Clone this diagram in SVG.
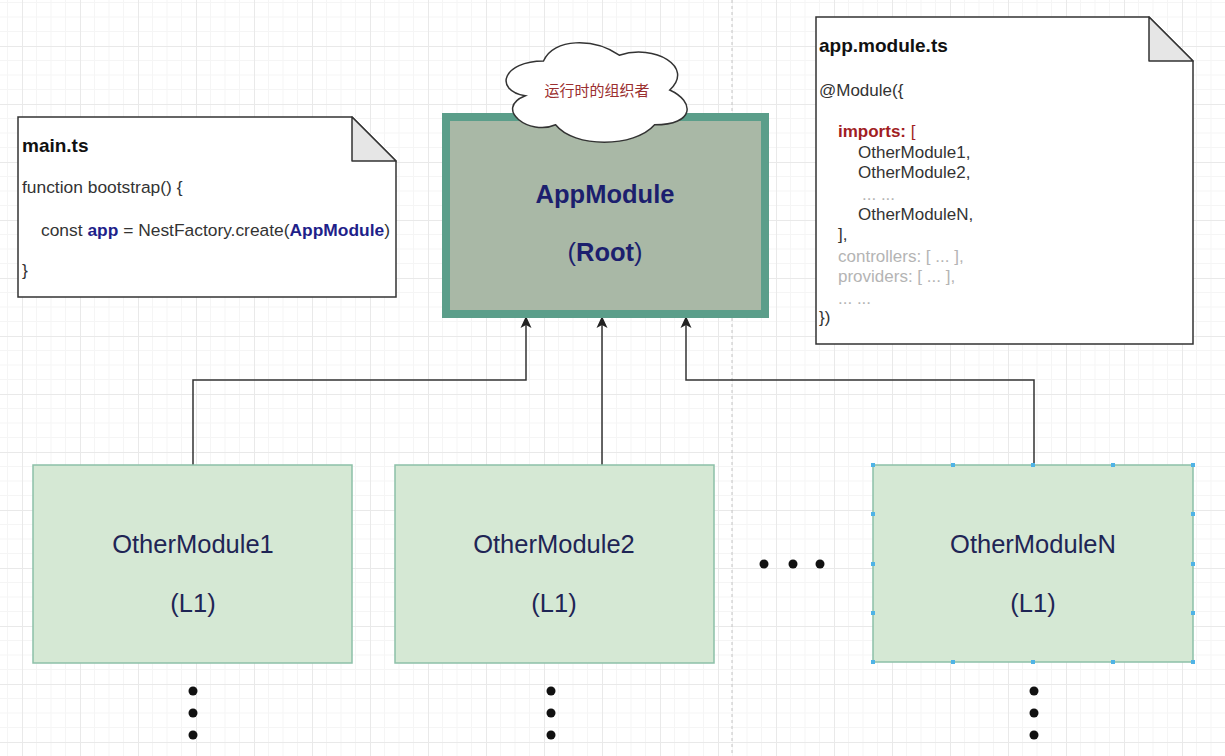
<svg xmlns="http://www.w3.org/2000/svg" width="1225" height="756" viewBox="0 0 1225 756">
<style>
.code{font-family:"Liberation Sans",Arial,sans-serif;font-size:17px;fill:#333}
.mcode{font-size:17.4px}
.title{font-family:"Liberation Sans",Arial,sans-serif;font-size:19px;font-weight:bold;fill:#111}
.kw{font-weight:bold;fill:#1f1f8a}
.imp{fill:#a11d23}
.dim{fill:#b4b4b4}
.note{fill:#fff;stroke:#333;stroke-width:1.5}
.fold{fill:#e6e6e6;stroke:#333;stroke-width:1.5;stroke-linejoin:round}
.mod{fill:#d5e8d4;stroke:#8cc0a8;stroke-width:1.5}
.modtxt{font-family:"Liberation Sans",Arial,sans-serif;font-size:25.5px;fill:#1f2555;text-anchor:middle}
.root{font-family:"Liberation Sans",Arial,sans-serif;font-size:25.5px;fill:#1c1f6e;text-anchor:middle}
.conn{fill:none;stroke:#333;stroke-width:1.5}
.dot{fill:#111}
.hdl{fill:#4fb3e6}
</style>
<defs>
<pattern id="grid" x="22" y="46" width="58" height="58" patternUnits="userSpaceOnUse">
<path d="M14.5 0V58M29 0V58M43.5 0V58M0 14.5H58M0 29H58M0 43.5H58" stroke="#f5f5f5" stroke-width="1" fill="none"/>
<path d="M0.5 0V58M0 0.5H58" stroke="#e9e9e9" stroke-width="1" fill="none"/>
</pattern>
<marker id="arr" viewBox="0 0 12 12" refX="11" refY="6" markerWidth="12" markerHeight="12" orient="auto" markerUnits="userSpaceOnUse">
<path d="M0,0.5 L12,6 L0,11.5 L3,6 Z" fill="#222"/>
</marker>
</defs>
<rect width="1225" height="756" fill="#fff"/>
<rect width="1225" height="756" fill="url(#grid)"/>
<line x1="732" y1="0" x2="732" y2="756" stroke="#c4c4c4" stroke-width="1" stroke-dasharray="3 3"/>

<g id="connectors">
<path class="conn" d="M193,465 V380 H526 V317" marker-end="url(#arr)"/>
<path class="conn" d="M602,465 V317" marker-end="url(#arr)"/>
<path class="conn" d="M1034,465 V380 H686 V317" marker-end="url(#arr)"/>
</g>

<g id="main-ts">
<path class="note" d="M18,117 H352 L396,161 V297 H18 Z"/>
<path class="fold" d="M352,117 V161 H396 Z"/>
<text class="title" x="22" y="152">main.ts</text>
<text class="code mcode" x="22" y="193">function bootstrap() {</text>
<text class="code mcode" x="41" y="236">const <tspan class="kw">app</tspan> = NestFactory.create(<tspan class="kw">AppModule</tspan>)</text>
<text class="code mcode" x="22" y="276">}</text>
</g>

<g id="app-module-ts">
<path class="note" d="M816,17 H1149 L1193,61 V344 H816 Z"/>
<path class="fold" d="M1149,17 V61 H1193 Z"/>
<text class="title" x="819" y="52">app.module.ts</text>
<text class="code" x="819" y="96">@Module({</text>
<text class="code" x="838" y="137"><tspan class="imp" font-weight="bold">imports:</tspan><tspan class="imp"> [</tspan></text>
<text class="code" x="858" y="158">OtherModule1,</text>
<text class="code" x="858" y="178">OtherModule2,</text>
<text class="code dim" x="862" y="200" font-size="14">... ...</text>
<text class="code" x="858" y="220">OtherModuleN,</text>
<text class="code" x="838" y="240">],</text>
<text class="code dim" x="838" y="262">controllers: [ ... ],</text>
<text class="code dim" x="838" y="282">providers: [ ... ],</text>
<text class="code dim" x="838" y="304" font-size="14">... ...</text>
<text class="code" x="819" y="323">})</text>
</g>

<g id="app-module">
<rect x="446" y="117" width="319" height="197" fill="#a9b8a6" stroke="#5b9e8a" stroke-width="8"/>
<text class="root" x="605" y="203" font-weight="bold">AppModule</text>
<text class="root" x="605" y="261">(<tspan font-weight="bold">Root</tspan>)</text>
</g>

<g id="cloud">
<path d="M543.5,61 C503.1,61 493,90 525.3,95.8 C493,108.6 529.4,136.4 555.6,124.8 C573.8,148 634.4,148 654.6,124.8 C695,124.8 695,101.6 669.75,90 C695,66.8 654.6,43.6 619.25,55.2 C594,37.8 553.6,37.8 543.5,61 Z" fill="#fff" stroke="#333" stroke-width="1.5"/>
<text x="597" y="96" font-family="'Noto Sans CJK SC',sans-serif" font-size="15" fill="#9b2f2f" text-anchor="middle">运行时的组织者</text>
</g>

<g id="other-module-1">
<rect class="mod" x="33" y="465" width="319" height="198"/>
<text class="modtxt" x="193" y="553">OtherModule1</text>
<text class="modtxt" x="193" y="612">(L1)</text>
</g>

<g id="other-module-2">
<rect class="mod" x="395" y="465" width="319" height="198"/>
<text class="modtxt" x="554" y="553">OtherModule2</text>
<text class="modtxt" x="554" y="612">(L1)</text>
</g>

<g id="other-module-n">
<rect class="mod" x="873" y="465" width="320" height="197" stroke="#7ab8c4"/>
<text class="modtxt" x="1033" y="553">OtherModuleN</text>
<text class="modtxt" x="1033" y="612">(L1)</text>
<g class="hdl">
<rect x="871" y="463" width="4" height="4"/><rect x="951" y="463" width="4" height="4"/><rect x="1031" y="463" width="4" height="4"/><rect x="1111" y="463" width="4" height="4"/><rect x="1191" y="463" width="4" height="4"/>
<rect x="871" y="660" width="4" height="4"/><rect x="951" y="660" width="4" height="4"/><rect x="1031" y="660" width="4" height="4"/><rect x="1111" y="660" width="4" height="4"/><rect x="1191" y="660" width="4" height="4"/>
<rect x="871" y="512" width="4" height="4"/><rect x="871" y="562" width="4" height="4"/><rect x="871" y="611" width="4" height="4"/>
<rect x="1191" y="512" width="4" height="4"/><rect x="1191" y="562" width="4" height="4"/><rect x="1191" y="611" width="4" height="4"/>
</g>
</g>

<g id="ellipsis">
<circle class="dot" cx="764" cy="564" r="4.5"/>
<circle class="dot" cx="793" cy="564" r="4.5"/>
<circle class="dot" cx="820" cy="564" r="4.5"/>
<circle class="dot" cx="193" cy="691" r="4.5"/>
<circle class="dot" cx="193" cy="713" r="4.5"/>
<circle class="dot" cx="193" cy="735" r="4.5"/>
<circle class="dot" cx="551" cy="691" r="4.5"/>
<circle class="dot" cx="551" cy="713" r="4.5"/>
<circle class="dot" cx="551" cy="735" r="4.5"/>
<circle class="dot" cx="1034" cy="691" r="4.5"/>
<circle class="dot" cx="1034" cy="713" r="4.5"/>
<circle class="dot" cx="1034" cy="735" r="4.5"/>
</g>
</svg>
